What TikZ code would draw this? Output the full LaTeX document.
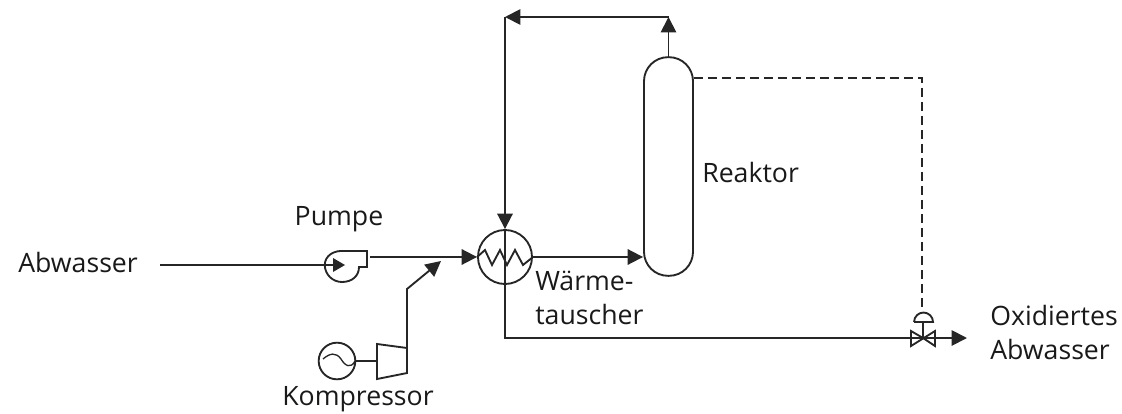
\documentclass[tikz,border=0pt]{standalone}
\usepackage{fontspec}
\setmainfont{Open Sans}
\usetikzlibrary{arrows.meta}

\begin{document}
\begin{tikzpicture}[x=0.75pt,y=-0.75pt]
\tikzstyle{line} = [line width=1.4pt,draw=black!85]
\tikzstyle{arrow} = [line,-{Triangle[length=11.5pt,width=11.5pt]}]
\tikzstyle{label} = [font=\fontsize{20}{20}\selectfont,inner sep=0pt,text=black!90]
\tikzstyle{unit} = [line,circle,inner sep=0pt]
\useasboundingbox (0,0) rectangle (1122,414);

\node (reactor) at (668.5,166.5) [line,minimum width=36.75pt,minimum height=164pt,rounded corners=18pt,inner sep=0pt] {};
\node (hx) at (505,257) [unit,minimum size=40.5pt] {};
\node (pump) at (339,265) [circle,inner sep=0pt,minimum size=21pt] {};
\node (motor) at (337,361) [unit,minimum size=27.5pt] {};
\coordinate (valve) at (923,338);
\coordinate (corner) at (505,17);
\coordinate (reactortop) at (668.5,17);
\coordinate (feed) at (160,265);
\coordinate (pumpout) at (370,257);
\coordinate (bend) at (407,289);
\coordinate (mix) at (441,261);
\coordinate (out) at (967,338);
\coordinate (signal) at (922,78);

\node (abwasser) at (18,262) [label,anchor=west] {Abwasser};
\node (pumpe) at (339,219) [label] {Pumpe};
\node (kompressor) at (358,399) [label] {Kompressor};
\node (waerme) at (535,281) [label,anchor=west] {Wärme-};
\node (tauscher) at (535,314) [label,anchor=west] {tauscher};
\node (reaktor) at (702,172) [label,anchor=west] {Reaktor};
\node (oxidiert) at (990,315) [label,anchor=west] {Oxidiertes};
\node (abwasser2) at (990,349) [label,anchor=west] {Abwasser};

% pump casing
\draw [line] (feed) -- (pump.center);
\draw [line] (367,267) -- (367,251) -- (345,251) .. controls (333,250) and (325,256) .. (pump.west) .. controls (325,275) and (333,282) .. (342,282) .. controls (352,282) and (359,276) .. (359,267) -- cycle;
\fill [black!85] (333,258) -- (345,265) -- (333,272) -- cycle;
\draw [arrow] (pumpout) -- (hx.west);

% compressor
\draw [line] (377,344) -- (407,348) -- (407,373) -- (377,379) -- cycle;
\draw [line] (motor.east) -- (377,361);
\draw [line,line width=1pt] (323,359) .. controls (330,353) and (336,352) .. (341,359) .. controls (345,366) and (351,369) .. (355,361);
\draw [arrow] (407,348) -- (bend) -- (mix);

% heat exchanger
\draw [line] (hx.west) -- (485,250) -- (492,265) -- (500,250) -- (507,265) -- (515,250) -- (523,265) -- (hx.east);
\draw [arrow] (hx.east) -- (hx.east -| reactor.west);
\draw [arrow] (corner) -- (hx.north);
\draw [line] (hx.north) -- (hx.south) -- (hx.south |- valve) -- (valve);

% reactor head
\draw [arrow] (reactor.north) -- (reactortop);
\draw [arrow] (reactortop) -- (corner);
\draw [line,dash pattern=on 7pt off 3.5pt] (reactor.east |- signal) -- (signal) -- (922,310);

% valve
\draw [line] (valve) -- (911,331) -- (911,346) -- (935,331) -- (935,346) -- cycle;
\draw [line] (valve) -- (923,322);
\draw [line] (914,322) -- (933,322) arc (0:180:7.1pt);
\draw [arrow] (valve) -- (out);
\end{tikzpicture}
\end{document}
